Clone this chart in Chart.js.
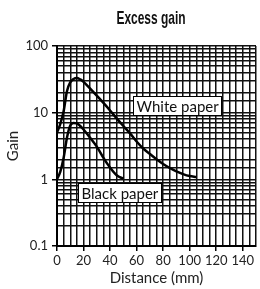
<!DOCTYPE html>
<html>
<head>
<meta charset="utf-8">
<script src="https://cdn.jsdelivr.net/npm/chart.js@4"></script>
<style>
  html, body { margin: 0; padding: 0; background: #fff; }
</style>
</head>
<body>
<canvas id="chart" width="260" height="289"></canvas>
<script>
// distance in mm, gain on log scale
const whiteDistance = [0, 2.5, 5, 7.5, 10, 12.5, 15, 17.5, 20, 25, 30, 35, 40, 45, 50, 55, 60, 65, 70, 75, 80, 85, 90, 95, 100, 105];
const whitePaper = [5.0, 6.8, 10.5, 21, 28.5, 32, 33, 31.5, 29, 23, 18, 14, 10.8, 8.2, 6.3, 4.9, 3.7, 2.9, 2.4, 2.0, 1.7, 1.48, 1.32, 1.2, 1.12, 1.08];

const blackDistance = [0, 2.5, 5, 7.5, 10, 12.5, 15, 17.5, 20, 25, 30, 35, 40, 45, 50];
const blackPaper = [1.0, 1.3, 2.1, 4.2, 6.4, 7.0, 6.9, 6.3, 5.6, 4.2, 3.1, 2.1, 1.5, 1.15, 1.02];

const xTickLabels = [0, 20, 40, 60, 80, 100, 120, 140];
const yTickLabels = [0.1, 1, 10, 100];

// boxed curve names: left edge (mm) and centre (gain)
const labelTexts = ['White paper', 'Black paper'];
const labelX = [57, 15.8];
const labelY = [12.9, 0.63];

const FONT = "Lato, 'Open Sans', sans-serif";

function isDecade(v) {
  return yTickLabels.some(t => Math.abs(t - v) < t * 1e-6);
}

const labelPlugin = {
  id: 'paperLabels',
  afterDraw(chart) {
    const ctx = chart.ctx;
    const xs = chart.scales.x;
    const ys = chart.scales.y;
    ctx.save();

    // title, squeezed to look like a condensed face
    ctx.save();
    ctx.fillStyle = '#111';
    ctx.font = "bold 19px 'Liberation Sans', Arial, sans-serif";
    ctx.textAlign = 'center';
    ctx.textBaseline = 'middle';
    ctx.translate(151, 19);
    ctx.scale(0.63, 1);
    ctx.fillText('Excess gain', 0, 0);
    ctx.restore();

    // curve names
    ctx.font = '15px ' + FONT;
    ctx.textAlign = 'left';
    ctx.textBaseline = 'middle';
    labelTexts.forEach((t, i) => {
      const left = Math.round(xs.getPixelForValue(labelX[i])) + 0.5;
      const cy = ys.getPixelForValue(labelY[i]);
      const w = Math.round(ctx.measureText(t).width) + 6;
      const h = 19;
      const top = Math.round(cy - h / 2) + 0.5;
      ctx.fillStyle = '#fff';
      ctx.fillRect(left, top, w, h);
      ctx.strokeStyle = '#000';
      ctx.lineWidth = 1;
      ctx.strokeRect(left, top, w, h);
      ctx.fillStyle = '#111';
      ctx.fillText(t, left + 3, top + h / 2 + 1);
    });
    ctx.restore();
  }
};

new Chart(document.getElementById('chart'), {
  type: 'line',
  data: {
    datasets: [
      {
        label: 'White paper',
        data: whiteDistance.map((d, i) => ({ x: d, y: whitePaper[i] })),
        borderColor: '#000',
        borderWidth: 2.5,
        pointRadius: 0,
        fill: false,
        cubicInterpolationMode: 'monotone'
      },
      {
        label: 'Black paper',
        data: blackDistance.map((d, i) => ({ x: d, y: blackPaper[i] })),
        borderColor: '#000',
        borderWidth: 2.5,
        pointRadius: 0,
        fill: false,
        cubicInterpolationMode: 'monotone'
      }
    ]
  },
  options: {
    responsive: false,
    animation: false,
    devicePixelRatio: 1,
    layout: { padding: { top: 46, right: 4, left: 0, bottom: 0 } },
    plugins: {
      legend: { display: false },
      tooltip: { enabled: false },
      title: { display: false }
    },
    scales: {
      x: {
        type: 'linear',
        min: 0,
        max: 150,
        afterFit: s => { s.height = 43; },
        ticks: {
          stepSize: 5,
          autoSkip: false,
          maxRotation: 0,
          minRotation: 0,
          padding: 2,
          color: '#222',
          font: { family: FONT, size: 13 },
          callback: v => xTickLabels.includes(v) ? String(v) : ''
        },
        grid: {
          color: '#111',
          lineWidth: 1.5,
          tickLength: 5,
          tickColor: c => (c.tick && xTickLabels.includes(c.tick.value)) ? '#000' : 'rgba(0,0,0,0)'
        },
        border: { color: '#000', width: 2 },
        title: {
          display: true,
          text: 'Distance (mm)',
          color: '#222',
          font: { family: FONT, size: 15 },
          padding: { top: 0, bottom: 2 }
        }
      },
      y: {
        type: 'logarithmic',
        min: 0.1,
        max: 100,
        afterFit: s => { s.width = 57; },
        ticks: {
          autoSkip: false,
          padding: 4,
          color: '#222',
          font: { family: FONT, size: 13 },
          callback: v => isDecade(v) ? String(parseFloat(v.toPrecision(3))) : ''
        },
        grid: {
          color: '#111',
          lineWidth: 1.5,
          tickLength: 5,
          tickColor: c => (c.tick && isDecade(c.tick.value)) ? '#000' : 'rgba(0,0,0,0)'
        },
        border: { color: '#000', width: 2 },
        title: {
          display: true,
          text: 'Gain',
          color: '#222',
          font: { family: FONT, size: 15 },
          padding: { top: 4, bottom: 0 }
        }
      }
    }
  },
  plugins: [labelPlugin]
});
</script>
</body>
</html>
